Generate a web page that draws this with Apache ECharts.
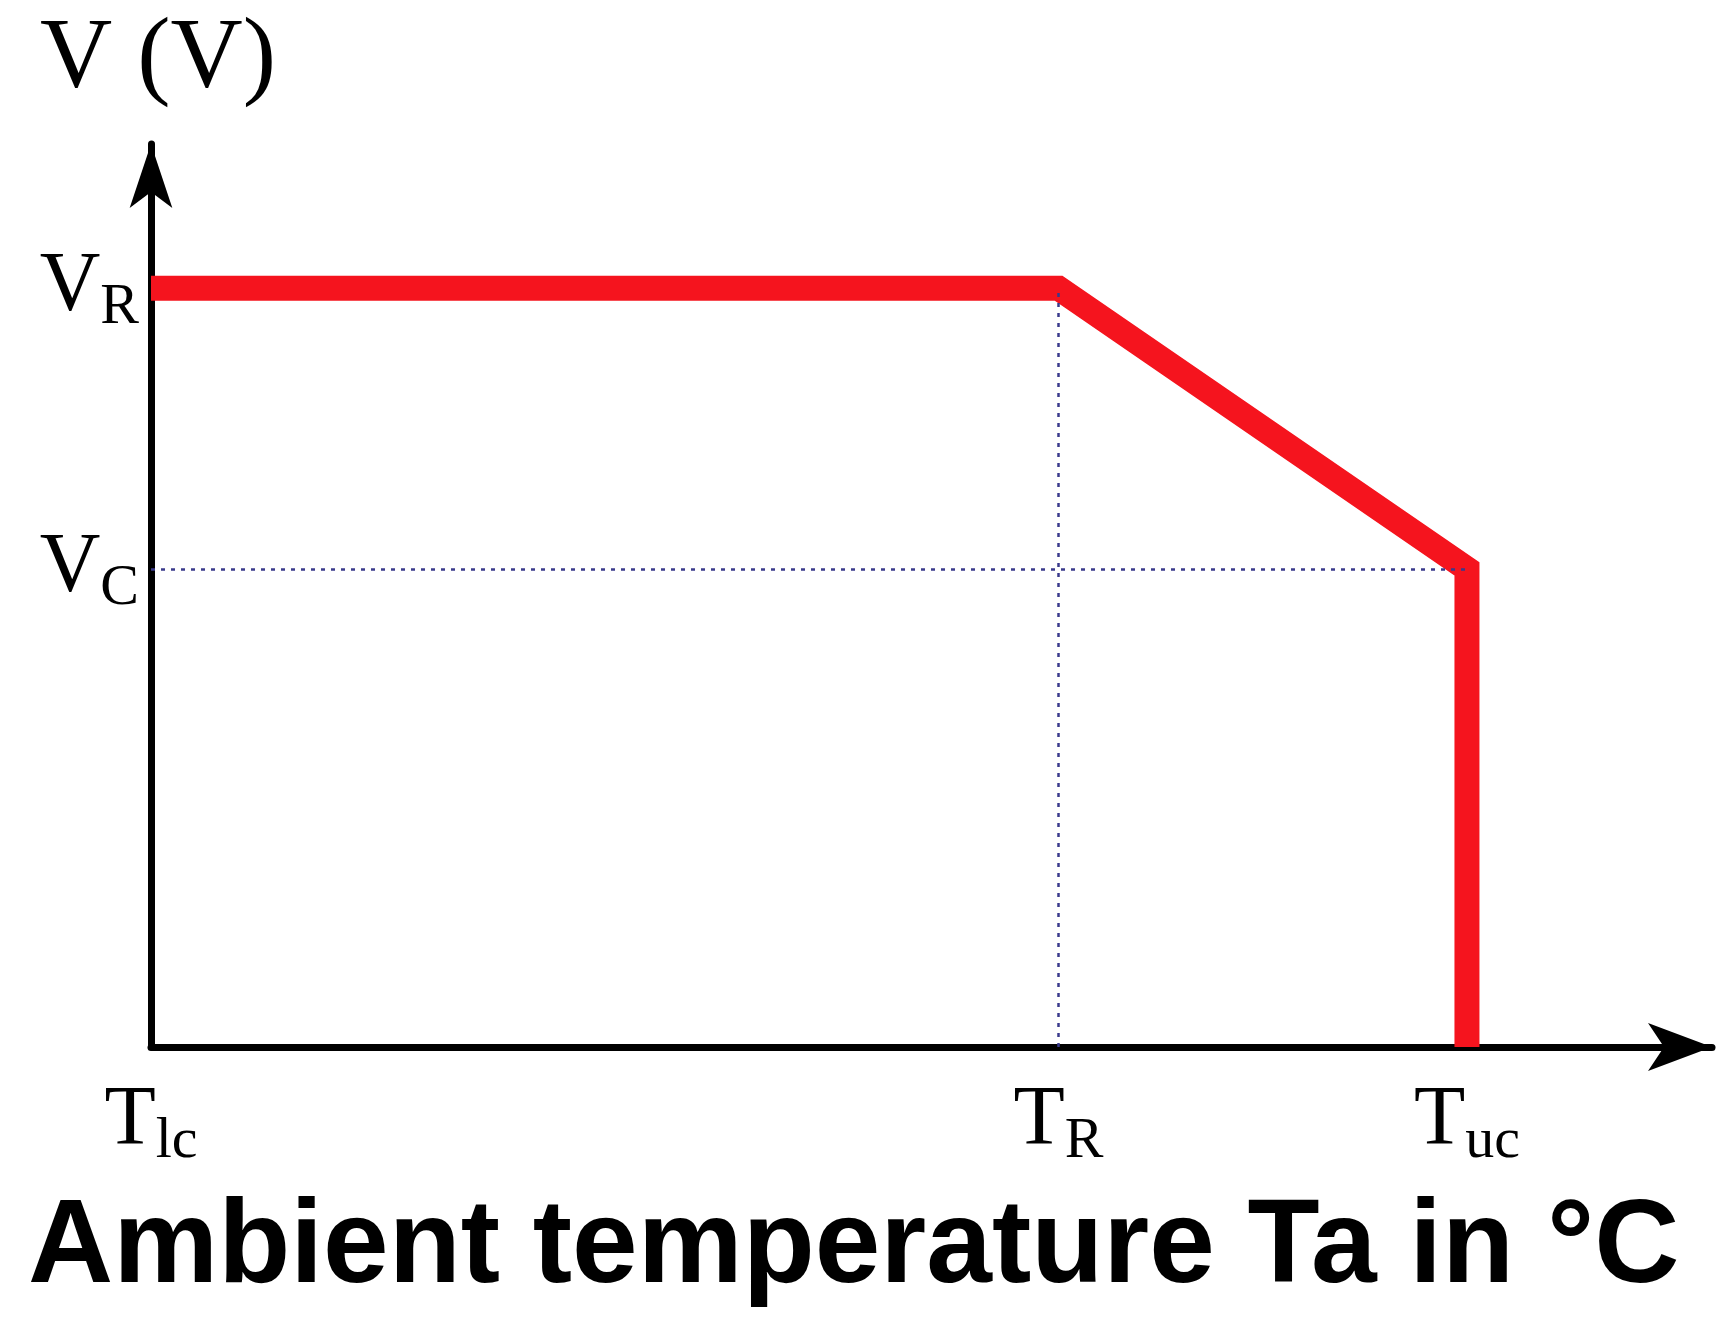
<!DOCTYPE html>
<html>
<head>
<meta charset="utf-8">
<script src="https://cdn.jsdelivr.net/npm/echarts@6/dist/echarts.min.js"></script>
<style>html,body{margin:0;padding:0;background:#fff}#chart{width:1732px;height:1344px}</style>
</head>
<body>
<div id="chart"></div>
<script>
// derating curve, abstract units: Tlc=0, TR=100, Tuc~145 ; VR=100, VC~64
var curveX = [0, 100, 145, 145];
var curveY = [100, 100, 63, 0];
var xTicks = [0, 100, 145];
var xTickNames = ['{m|T}{s|lc}', '{m|T}{s|R}', '{m|T}{s|uc}'];
var yTicks = [63, 100];
var yTickNames = ['{m|V}{s|C}', '{m|V}{s|R}'];

function createViz() {
    var myChart = echarts.init(document.getElementById('chart'));
    var serif = 'Liberation Serif';
    var rich = {
        m: {fontFamily: serif, fontSize: 84, color: '#000'},
        s: {fontFamily: serif, fontSize: 58, color: '#000', padding: [40, 0, 0, 0]}
    };
    var points = curveX.map(function(x, i) { return [x, curveY[i]]; });

    var option = {
        animation: false,
        backgroundColor: '#fff',
        grid: {left: 151, right: 20, top: 144, bottom: 297},
        graphic: [
            {type: 'text', left: 40, top: 10, style: {text: 'V (V)', font: '100px "Liberation Serif"', fill: '#000'}},
            {type: 'text', left: 28, top: 1190, style: {text: 'Ambient temperature Ta in °C', font: 'bold 118px "Liberation Sans"', fill: '#000'}}
        ],
        xAxis: {
            type: 'value', min: 0, max: 172,
            axisLine: {lineStyle: {color: '#000', width: 7}, symbol: ['none', 'arrow'], symbolSize: [36, 64]},
            axisTick: {show: false},
            splitLine: {show: false},
            axisLabel: {
                customValues: xTicks, margin: 26, rich: rich,
                formatter: function(v) { return xTickNames[xTicks.indexOf(v)]; }
            }
        },
        yAxis: {
            type: 'value', min: 0, max: 119,
            axisLine: {lineStyle: {color: '#000', width: 7}, symbol: ['none', 'arrow'], symbolSize: [32, 64]},
            axisTick: {show: false},
            splitLine: {show: false},
            axisLabel: {
                customValues: yTicks, margin: 12, rich: rich,
                formatter: function(v) { return yTickNames[yTicks.indexOf(v)]; }
            }
        },
        series: [
            {
                type: 'line', data: [], silent: true,
                markLine: {
                    symbol: 'none', silent: true, label: {show: false},
                    lineStyle: {color: '#3a3a8c', type: [4, 6], width: 2.5},
                    data: [
                        [{coord: [0, curveY[2]]}, {coord: [curveX[2], curveY[2]]}],
                        [{coord: [curveX[1], 0]}, {coord: [curveX[1], curveY[1]]}]
                    ]
                }
            },
            {
                type: 'line', data: points, showSymbol: false,
                lineStyle: {color: '#f5141e', width: 25, join: 'miter'}
            }
        ]
    };
    myChart.setOption(option);
}

createViz();
</script>
</body>
</html>
